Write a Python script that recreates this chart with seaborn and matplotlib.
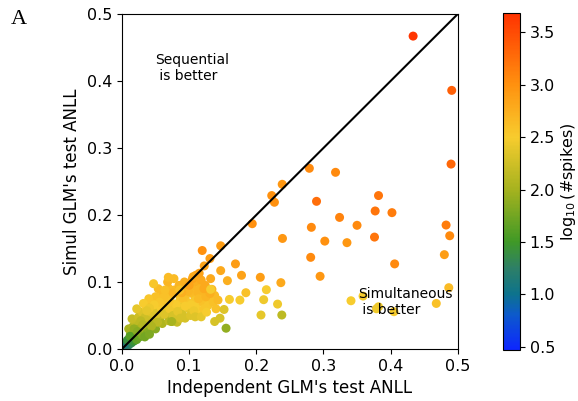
import numpy as np
import pandas as pd
import matplotlib
matplotlib.use("Agg")
import matplotlib.pyplot as plt
from matplotlib.colors import LinearSegmentedColormap, Normalize
from matplotlib.cm import ScalarMappable
import seaborn as sns

# ---- data (independent ANLL, simultaneous ANLL, log10 #spikes) ----
cluster_x = [0.003, 0.006, 0.008, 0.010, 0.012, 0.014, 0.016, 0.018, 0.005, 0.011,
             0.020, 0.022, 0.024, 0.015, 0.008, 0.026, 0.019, 0.013, 0.028, 0.030,
             0.010, 0.016, 0.022, 0.032, 0.035, 0.027, 0.020, 0.015, 0.025, 0.033,
             0.038, 0.040, 0.042, 0.030, 0.022, 0.036, 0.038, 0.045, 0.048, 0.050,
             0.046, 0.044, 0.052, 0.055, 0.056, 0.060, 0.058, 0.062, 0.066, 0.068,
             0.070, 0.064, 0.060, 0.072, 0.075, 0.078, 0.074, 0.080, 0.078, 0.084,
             0.086, 0.088, 0.090, 0.085, 0.092, 0.095, 0.097, 0.100, 0.098, 0.104,
             0.106, 0.108, 0.110, 0.112, 0.116, 0.118, 0.120, 0.115, 0.124, 0.126,
             0.130, 0.128, 0.134, 0.138, 0.136, 0.094, 0.082, 0.102, 0.105, 0.110,
             0.118, 0.093, 0.070, 0.050, 0.040, 0.032, 0.054, 0.068,
             0.034, 0.028, 0.043, 0.050, 0.053, 0.058, 0.063, 0.066, 0.071, 0.076,
             0.081, 0.083, 0.087, 0.091, 0.094, 0.099, 0.103, 0.107, 0.113, 0.114,
             0.122, 0.125, 0.131, 0.122, 0.100, 0.089, 0.076, 0.070, 0.062, 0.056,
             0.048, 0.041, 0.037, 0.026, 0.031, 0.044, 0.018, 0.012, 0.023, 0.140,
             0.143, 0.109, 0.118, 0.126, 0.034, 0.041]
cluster_y = [0.002, 0.004, 0.008, 0.006, 0.011, 0.009, 0.014, 0.012, 0.007, 0.015,
             0.018, 0.014, 0.022, 0.020, 0.013, 0.018, 0.025, 0.024, 0.026, 0.021,
             0.030, 0.033, 0.030, 0.030, 0.024, 0.035, 0.040, 0.045, 0.048, 0.041,
             0.033, 0.028, 0.040, 0.055, 0.060, 0.063, 0.052, 0.048, 0.036, 0.030,
             0.058, 0.070, 0.066, 0.055, 0.045, 0.038, 0.075, 0.068, 0.060, 0.050,
             0.042, 0.081, 0.085, 0.078, 0.068, 0.058, 0.041, 0.048, 0.088, 0.082,
             0.072, 0.062, 0.052, 0.095, 0.090, 0.080, 0.070, 0.060, 0.098, 0.092,
             0.082, 0.072, 0.063, 0.100, 0.090, 0.080, 0.070, 0.055, 0.095, 0.085,
             0.075, 0.065, 0.089, 0.080, 0.070, 0.046, 0.040, 0.050, 0.105, 0.110,
             0.103, 0.100, 0.090, 0.078, 0.075, 0.068, 0.090, 0.100,
             0.047, 0.042, 0.055, 0.050, 0.040, 0.062, 0.052, 0.072, 0.060, 0.050,
             0.066, 0.056, 0.046, 0.076, 0.064, 0.086, 0.066, 0.057, 0.085, 0.075,
             0.060, 0.078, 0.083, 0.090, 0.095, 0.084, 0.084, 0.070, 0.077, 0.070,
             0.066, 0.061, 0.057, 0.030, 0.036, 0.034, 0.030, 0.019, 0.026, 0.060,
             0.073, 0.048, 0.048, 0.055, 0.018, 0.022]
cluster_c = [1.00, 1.10, 1.20, 1.25, 1.30, 1.35, 1.40, 1.45, 1.15, 1.40,
             1.60, 1.65, 1.70, 1.65, 1.40, 1.70, 1.80, 1.80, 1.85, 1.80,
             2.00, 2.05, 2.05, 2.00, 1.80, 2.15, 2.15, 2.20, 2.25, 2.20,
             2.05, 1.85, 2.15, 2.35, 2.40, 2.50, 2.35, 2.25, 2.05, 1.85,
             2.40, 2.60, 2.50, 2.35, 2.20, 2.05, 2.60, 2.55, 2.40, 2.25,
             2.15, 2.65, 2.65, 2.60, 2.50, 2.35, 2.10, 2.20, 2.65, 2.65,
             2.55, 2.40, 2.30, 2.70, 2.70, 2.60, 2.55, 2.40, 2.75, 2.70,
             2.65, 2.55, 2.50, 2.75, 2.70, 2.65, 2.60, 2.50, 2.80, 2.70,
             2.60, 2.55, 2.70, 2.65, 2.60, 2.30, 2.20, 2.35, 2.85, 2.85,
             2.80, 2.75, 2.65, 2.60, 2.55, 2.50, 2.65, 2.70,
             2.25, 2.15, 2.35, 2.35, 2.15, 2.50, 2.35, 2.60, 2.45, 2.30,
             2.50, 2.40, 2.30, 2.60, 2.50, 2.70, 2.50, 2.45, 2.70, 2.65,
             2.55, 2.70, 2.75, 2.80, 2.85, 2.75, 2.70, 2.55, 2.60, 2.55,
             2.50, 2.45, 2.40, 2.00, 2.10, 2.05, 1.90, 1.60, 1.85, 2.60,
             2.65, 2.35, 2.40, 2.50, 1.75, 1.80]

outer_x = [0.047, 0.069, 0.0774, 0.064, 0.086, 0.132, 0.146, 0.138, 0.155, 0.152,
           0.160, 0.1756, 0.1845, 0.157, 0.132, 0.106, 0.115, 0.147, 0.178, 0.169,
           0.1225, 0.131, 0.1195, 0.147, 0.206, 0.2366, 0.215, 0.2317, 0.211, 0.207,
           0.238, 0.194, 0.223, 0.227, 0.2386, 0.239, 0.074,
           0.4335, 0.491, 0.490, 0.279, 0.318, 0.2897, 0.382, 0.377, 0.402, 0.324,
           0.282, 0.350, 0.4826, 0.488, 0.302, 0.335, 0.376, 0.281, 0.480, 0.406,
           0.295, 0.4866, 0.341, 0.359, 0.379, 0.382, 0.405, 0.468]
outer_y = [0.0975, 0.107, 0.105, 0.088, 0.088, 0.089, 0.046, 0.041, 0.031, 0.059,
           0.074, 0.073, 0.084, 0.102, 0.105, 0.108, 0.113, 0.117, 0.110, 0.127,
           0.124, 0.135, 0.147, 0.154, 0.107, 0.099, 0.0885, 0.067, 0.0736, 0.0507,
           0.0507, 0.187, 0.229, 0.219, 0.2458, 0.165, 0.041,
           0.467, 0.386, 0.276, 0.2697, 0.2637, 0.2204, 0.229, 0.206, 0.2035, 0.1964,
           0.1816, 0.1846, 0.185, 0.169, 0.161, 0.1587, 0.167, 0.1368, 0.1408, 0.127,
           0.1085, 0.0915, 0.072, 0.079, 0.060, 0.063, 0.0557, 0.068]
outer_c = [2.55, 2.65, 2.65, 2.60, 2.60, 2.50, 2.30, 2.30, 1.90, 2.35,
           2.50, 2.50, 2.60, 2.75, 2.80, 2.80, 2.85, 2.80, 2.85, 2.90,
           2.85, 2.90, 3.00, 2.90, 2.90, 2.80, 2.50, 2.45, 2.45, 2.40,
           2.15, 3.00, 3.00, 3.00, 2.95, 2.95, 2.00,
           3.65, 3.35, 3.30, 3.05, 3.05, 3.25, 3.20, 3.20, 3.15, 3.10,
           3.05, 3.05, 3.15, 3.05, 3.00, 2.95, 3.20, 3.05, 2.90, 3.05,
           2.95, 2.65, 2.50, 2.50, 2.45, 2.45, 2.50, 2.60]

axis_ticks = [0.0, 0.1, 0.2, 0.3, 0.4, 0.5]
cbar_ticks = [0.5, 1.0, 1.5, 2.0, 2.5, 3.0, 3.5]
vmin, vmax = 0.47, 3.68

df = pd.DataFrame({
    "indep": cluster_x + outer_x,
    "simul": cluster_y + outer_y,
    "logspk": cluster_c + outer_c,
})

# custom blue-green-yellow-red colormap
vals = [0.47, 0.8, 1.0, 1.25, 1.5, 2.0, 2.5, 3.0, 3.68]
cols = [(0.05, 0.15, 1.0), (0.05, 0.35, 0.8), (0.05, 0.45, 0.55), (0.18, 0.5, 0.4),
        (0.25, 0.6, 0.15), (0.65, 0.7, 0.12), (0.97, 0.8, 0.18), (1.0, 0.57, 0.06),
        (1.0, 0.2, 0.0)]
cmap = LinearSegmentedColormap.from_list(
    "spk", [((v - vmin) / (vmax - vmin), c) for v, c in zip(vals, cols)])
norm = Normalize(vmin=vmin, vmax=vmax)

fig = plt.figure(figsize=(5.78, 4.01), dpi=100)
ax = fig.add_axes([0.211, 0.1297, 0.581, 0.8354])
cax = fig.add_axes([0.870, 0.127, 0.0294, 0.840])

sns.scatterplot(data=df, x="indep", y="simul", hue="logspk", palette=cmap,
                hue_norm=norm, s=42, linewidth=0, legend=False, ax=ax, zorder=2)
ax.plot([0, 0.5], [0, 0.5], color="black", lw=1.5, zorder=3)

ax.set_xlim(0, 0.5)
ax.set_ylim(0, 0.5)
ax.set_xticks(axis_ticks)
ax.set_yticks(axis_ticks)
ax.tick_params(labelsize=11.5)
ax.set_xlabel("Independent GLM's test ANLL", fontsize=12)
ax.set_ylabel("Simul GLM's test ANLL", fontsize=12)

ax.text(0.049, 0.442, "Sequential\n is better", fontsize=10, ha="left", va="top",
        zorder=5)
ax.text(0.351, 0.093, "Simultaneous\n is better", fontsize=10, ha="left", va="top",
        zorder=5)

fig.text(0.018, 0.975, "A", fontsize=16, family="Liberation Serif", va="top")

cb = fig.colorbar(ScalarMappable(norm=norm, cmap=cmap), cax=cax)
cb.set_ticks(cbar_ticks)
cb.ax.tick_params(labelsize=11.5)
cb.set_label(r"$\log_{10}$(#spikes)", fontsize=11.5, labelpad=3)
cb.outline.set_linewidth(0.8)

fig.savefig("out.png", dpi=100)
